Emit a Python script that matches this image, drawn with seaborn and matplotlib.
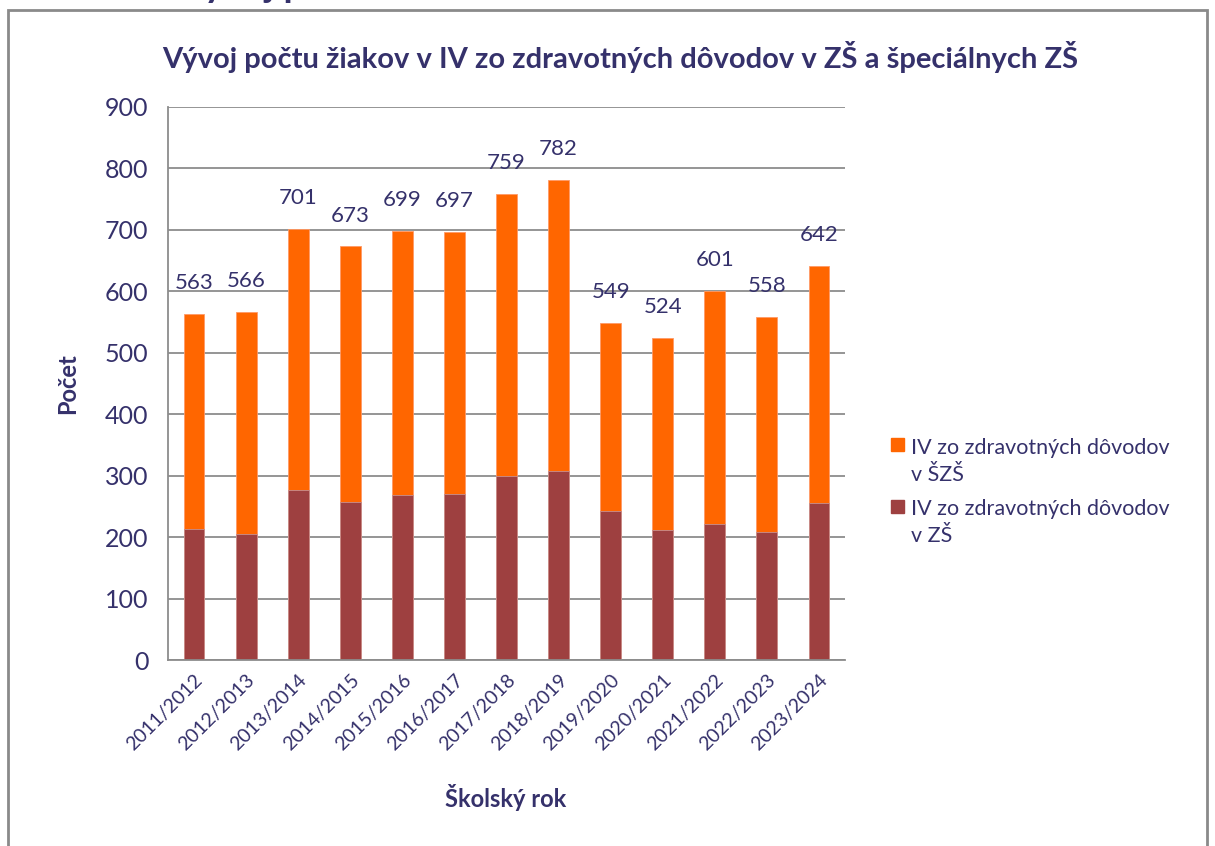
import matplotlib
matplotlib.use("Agg")
import matplotlib.pyplot as plt
import matplotlib.patches as mpatches
from matplotlib.legend_handler import HandlerPatch
import seaborn as sns
import numpy as np
import pandas as pd

years = ["2011/2012", "2012/2013", "2013/2014", "2014/2015", "2015/2016",
         "2016/2017", "2017/2018", "2018/2019", "2019/2020", "2020/2021",
         "2021/2022", "2022/2023", "2023/2024"]
totals = [563, 566, 701, 673, 699, 697, 759, 782, 549, 524, 601, 558, 642]
zs = [213, 205, 277, 257, 268, 270, 300, 308, 243, 212, 222, 209, 256]

lab_szs = "IV zo zdravotných dôvodov\nv ŠZŠ"
lab_zs = "IV zo zdravotných dôvodov\nv ZŠ"

orange = "#FF6600"
darkred = "#9E4040"
navy = "#35316B"

sns.set_style("white")
plt.rcParams["font.family"] = ["Lato", "DejaVu Sans"]

df = pd.DataFrame({"rok": years, "spolu": totals, "zs": zs})

fig = plt.figure(figsize=(12.15, 8.46), dpi=100)
ax = fig.add_axes([168/1215, 1-660/846, (845-168)/1215, (660-107)/846])

sns.barplot(data=df, x="rok", y="spolu", color=orange, width=0.4,
            saturation=1, edgecolor="#FF9A66", linewidth=0.6, ax=ax)
sns.barplot(data=df, x="rok", y="zs", color=darkred, width=0.4,
            saturation=1, edgecolor="#C89090", linewidth=0.6, ax=ax)

ax.bar_label(ax.containers[0], labels=[str(v) for v in totals],
             padding=15, fontsize=16, color=navy)

ax.set_ylim(0, 900)
ax.set_xlim(-0.5, len(years) - 0.5)
ax.set_yticks(range(0, 901, 100))
ax.yaxis.grid(True, color="#8C8C8C", linewidth=1.3)
ax.set_axisbelow(True)
for s in ["top", "right"]:
    ax.spines[s].set_visible(False)
for s in ["left", "bottom"]:
    ax.spines[s].set_color("#8C8C8C")
    ax.spines[s].set_linewidth(1.3)

ax.set_xticks(np.arange(-0.5, len(years), 1), minor=True)
ax.tick_params(axis="x", which="major", length=0, pad=8)
ax.tick_params(axis="x", which="minor", length=6, color="#8C8C8C", width=1.3)
ax.tick_params(axis="y", length=8, color="#8C8C8C", width=1.3, labelsize=18,
               labelcolor=navy, pad=6)
plt.setp(ax.get_xticklabels(), rotation=45, ha="right", rotation_mode="anchor",
         fontsize=14, color=navy)

ax.set_xlabel("")
ax.set_ylabel("")
fig.text(506/1215, 1-797/846, "Školský rok", ha="center", va="center",
         fontsize=17, fontweight="bold", color=navy)
fig.text(68/1215, 1-384/846, "Počet", ha="center", va="center", rotation=90,
         fontsize=17, fontweight="bold", color=navy)
fig.text(620/1215, 1-57/846,
         "Vývoj počtu žiakov v IV zo zdravotných dôvodov v ZŠ a špeciálnych ZŠ",
         ha="center", va="center", fontsize=21, fontweight="bold", color=navy)

# cut-off heading above the frame
fig.text(178/1215, 1+3/846, "Vývoj p", ha="left", va="baseline",
         fontsize=27, fontweight="bold", color=navy)

frame = mpatches.Rectangle((8/1215, -0.05), (1207-8)/1215, 1-10/846+0.05,
                           transform=fig.transFigure, fill=False,
                           edgecolor="#8A8A8A", linewidth=2)
fig.add_artist(frame)


# square marker placed next to the first line of a two-line label
def top_square(legend, orig_handle, xdescent, ydescent, width, height, fontsize):
    s = width
    return mpatches.Rectangle((-xdescent, -ydescent + height - s - 0.05 * fontsize), s, s)


handles = [mpatches.Patch(color=orange, label=lab_szs),
           mpatches.Patch(color=darkred, label=lab_zs)]
leg = fig.legend(handles=handles, loc="upper left",
                 bbox_to_anchor=(872/1215, 1-418/846), frameon=False,
                 fontsize=15.5, labelcolor=navy, handlelength=0.6,
                 handleheight=3.3, handletextpad=0.3, labelspacing=0.45,
                 handler_map={mpatches.Patch: HandlerPatch(patch_func=top_square)})
plt.setp(leg.get_texts(), linespacing=1.45)

fig.savefig("out.png", dpi=100)
